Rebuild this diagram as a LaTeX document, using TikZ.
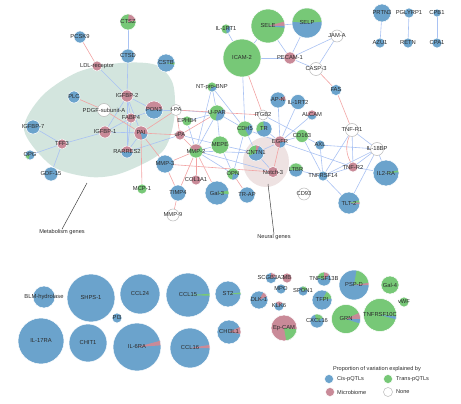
\documentclass[tikz,border=0pt]{standalone}
\usepackage{fontspec}
\setmainfont{Liberation Sans}
\usepackage{xcolor}

\definecolor{cis}{HTML}{6BA3CC}
\definecolor{trans}{HTML}{77C877}
\definecolor{micro}{HTML}{C98A98}
\definecolor{poslink}{HTML}{A9C2F3}
\definecolor{neglink}{HTML}{F2A3A3}
\definecolor{metab}{HTML}{D3E5DE}
\definecolor{neural}{HTML}{EEE2E2}
\definecolor{txt}{HTML}{2B2B2B}

\pgfdeclarelayer{blob}
\pgfdeclarelayer{link}
\pgfdeclarelayer{pie}
\pgfsetlayers{blob,link,pie,main}

\tikzset{
	gene/.style={circle, draw=white, line width=0.5pt, inner sep=0pt, text=txt, font=\fontsize{5.8}{6.5}\selectfont},
	none/.style={draw=gray!55},
	plink/.style={draw=poslink, line width=0.6pt},
	nlink/.style={draw=neglink, line width=0.6pt},
	note/.style={text=txt, inner sep=0pt, font=\fontsize{5.6}{6.5}\selectfont},
	pointer/.style={draw=black!75, line width=0.5pt}
}

\newcommand{\gene}[7][]{%
	\node[gene, minimum size=#5*2pt, #1] (#2) at (#3,-#4) {\makebox[0pt]{#7}};
	\begin{pgfonlayer}{pie}
		\foreach \pc/\pa/\pb in {#6}
			\fill[\pc] (#2.center) -- ++(\pa:#5) arc (\pa:\pb:#5) -- cycle;
	\end{pgfonlayer}}

\begin{document}
\begin{tikzpicture}[x=1pt, y=1pt]
			
			\useasboundingbox (0,0) rectangle (461,-404);
			
			\begin{pgfonlayer}{blob}
				\fill[metab] plot[smooth cycle] coordinates {(24,-130) (42,-96) (78,-72) (120,-63) (156,-65) (173,-84) (174,-120) (162,-152) (122,-173) (90,-177) (52,-166)};
				\fill[neural] (266,-162) ellipse (23 and 25);
			\end{pgfonlayer}
			
			\gene{ctsz}{128}{22}{8}{trans/0/360, micro/10/85}{CTSZ}
			\gene{pcsk9}{80}{37}{6}{cis/0/360}{PCSK9}
			\gene{ctsd}{128}{56}{7}{cis/0/360}{CTSD}
			\gene{cstb}{166}{63}{9}{cis/0/360, trans/-12/2}{CSTB}
			\gene{ldlr}{97}{66}{5}{micro/0/360}{LDL-receptor}
			\gene{igfbpb}{127}{96}{6}{micro/0/360}{IGFBP-2}
			\gene{plc}{74}{97}{6}{cis/0/360}{PLC}
			\gene[none]{pdgfa}{104}{110}{6.5}{white/0/360}{PDGF-subunit-A}
			\gene{pon3}{154}{110}{9}{cis/0/360, micro/5/170}{PON3}
			\gene{fabp4}{131}{118}{5}{micro/0/360}{FABP4}
			\gene[none]{tpa}{176}{110}{5.5}{white/0/360}{t-PA}
			\gene{ephb4}{187}{121}{5}{trans/0/360}{EPHB4}
			\gene{igfbpa}{105}{132}{6}{micro/0/360}{IGFBP-1}
			\gene{pai}{141}{133}{7}{micro/0/360, cis/-80/-10}{PAI}
			\gene{upa}{180}{135}{5}{micro/0/360}{uPA}
			\gene{rarres2}{127}{152}{6}{micro/0/360, cis/180/360}{RARRES2}
			\gene{igfbpg}{33}{127}{7}{cis/0/360}{IGFBP-7}
			\gene{tff3}{62}{144}{5}{micro/0/360}{TFF3}
			\gene{opg}{30}{155}{5}{cis/0/360, trans/190/250}{OPG}
			\gene{gdf15}{51}{174}{7}{cis/0/360}{GDF-15}
			\gene{mcp1}{142}{189}{5}{trans/0/360}{MCP-1}
			
			\gene{mmp3}{165}{164}{9}{cis/0/360}{MMP-3}
			\gene{mmp2}{196}{151}{7}{trans/0/360, micro/40/150}{MMP-2}
			\gene{mepe}{220}{145}{9}{trans/0/360}{MEPE}
			\gene{cntn1}{256}{153}{8}{cis/0/360, trans/90/200, micro/65/90}{CNTN1}
			\gene{notch3}{273}{172}{5.5}{micro/0/360}{Notch-3}
			\gene{egfr}{280}{142}{6}{micro/0/360, cis/-90/0}{EGFR}
			\gene{ltbr}{296}{170}{7}{cis/0/360, trans/0/180}{LTBR}
			\gene[none]{cd93}{304}{194}{6}{white/0/360}{CD93}
			\gene{opn}{233}{174}{6}{trans/0/360, cis/-100/0}{OPN}
			\gene{col1a1}{196}{180}{5}{micro/0/360}{COL1A1}
			\gene{gal3}{217}{193}{12}{cis/0/360, trans/-5/12}{Gal-3}
			\gene{trap}{247}{195}{8}{cis/0/360}{TR-AP}
			\gene{timp4}{178}{193}{8}{cis/0/360}{TIMP4}
			\gene[none]{mmp9}{173}{215}{6}{white/0/360}{MMP-9}
			
			\gene{il1rt1}{226}{29}{5}{trans/0/360, cis/-80/40}{IL-1RT1}
			\gene{sele}{268}{26}{17}{trans/0/360, micro/0/15, cis/-6/0}{SELE}
			\gene{selp}{307}{23}{15}{cis/0/360, trans/5/175}{SELP}
			\gene{icam2}{242}{58}{19}{trans/0/360}{ICAM-2}
			\gene{pecam1}{290}{58}{6}{micro/0/360}{PECAM-1}
			\gene[none]{jama}{337}{36}{6}{white/0/360}{JAM-A}
			\gene[none]{casp3}{316}{69}{6.5}{white/0/360}{CASP-3}
			\gene{fas}{336}{90}{5.5}{cis/0/360}{FAS}
			\gene[none]{tnfr1}{352}{130}{6.5}{white/0/360}{TNF-R1}
			\gene[none]{il18bp}{377}{149}{6.5}{white/0/360}{IL-18BP}
			\gene{tnfr2}{353}{167}{5}{micro/0/360}{TNF-R2}
			\gene{axl}{320}{145}{5}{cis/0/360}{AXL}
			\gene{tnfrsf14}{323}{176}{5}{cis/0/360}{TNFRSF14}
			\gene{il2ra}{386}{173}{13}{cis/0/360, trans/3/12}{IL2-RA}
			\gene{tlt2}{349}{203}{11}{cis/0/360, trans/2/15, micro/-5/2}{TLT-2}
			\gene{cd163}{302}{136}{6.5}{trans/0/360}{CD163}
			\gene{alcam}{312}{115}{5}{micro/0/360, cis/190/350}{ALCAM}
			\gene{il1rt2}{298}{102}{7.5}{cis/0/360}{IL-1RT2}
			\gene{apn}{278}{100}{8}{cis/0/360, micro/0/30}{AP-N}
			\gene[none]{itgb2}{263}{115}{5}{white/0/360}{ITGB2}
			\gene{tr}{264}{129}{8}{cis/0/360, trans/95/200}{TR}
			\gene{cdh5}{245}{129}{8}{trans/0/360, cis/-60/40}{CDH5}
			\gene{upar}{217}{113}{8}{trans/0/360, cis/-100/30}{U-PAR}
			\gene{ntbnp}{212}{87}{5}{trans/0/360, cis/-120/0}{NT-pro-BNP}
			
			\gene{prtn3}{382}{13}{9}{cis/0/360}{PRTN3}
			\gene{azu1}{380}{43}{5}{cis/0/360}{AZU1}
			\gene{pglyrp1}{409}{13}{5}{cis/0/360}{PGLYRP1}
			\gene{retn}{408}{43}{5}{cis/0/360}{RETN}
			\gene{cpb1}{437}{13}{4}{cis/0/360}{CPB1}
			\gene{cpa1}{437}{43}{5}{cis/0/360}{CPA1}
			
			\gene{blmh}{44}{297}{11}{cis/0/360}{BLM-hydrolase}
			\gene{shps1}{91}{298}{24}{cis/0/360}{SHPS-1}
			\gene{ccl24}{140}{294}{20}{cis/0/360}{CCL24}
			\gene{pi3}{117}{318}{5}{cis/0/360}{PI3}
			\gene{il17ra}{41}{341}{23}{cis/0/360}{IL-17RA}
			\gene{chit1}{88}{343}{19}{cis/0/360}{CHIT1}
			\gene{il6ra}{137}{347}{24}{cis/0/360, micro/4/15}{IL-6RA}
			\gene{ccl15}{188}{295}{22}{cis/0/360, trans/-2/3}{CCL15}
			\gene{st2}{228}{294}{13}{cis/0/360, trans/0/7}{ST2}
			\gene{dlk1}{259}{300}{9}{cis/0/360, micro/25/60}{DLK-1}
			\gene{scgb3a2}{271}{278}{5.5}{cis/0/360, micro/10/90}{SCGB3A2}
			\gene{mb}{287}{278}{5}{micro/0/360}{MB}
			\gene{mpo}{281}{289}{5}{cis/0/360}{MPO}
			\gene{klk6}{279}{306}{5}{cis/0/360, micro/40/130}{KLK6}
			\gene{chi3l1}{229}{332}{12}{cis/0/360, micro/-10/25}{CHI3L1}
			\gene{ccl16}{190}{348}{20}{cis/0/360, micro/0/9}{CCL16}
			\gene{epcam}{284}{328}{13}{micro/0/360, trans/-80/-5}{Ep-CAM}
			\gene{spon1}{303}{291}{5}{cis/0/360, trans/20/110}{SPON1}
			\gene{tnfsf13b}{324}{279}{7}{cis/0/360, trans/90/170, micro/40/90}{TNFSF13B}
			\gene{tfpi}{322}{300}{10}{cis/0/360, trans/10/60}{TFPI}
			\gene{cxcl16}{317}{321}{7}{cis/0/360, trans/30/110}{CXCL16}
			\gene{pspd}{354}{285}{15}{cis/0/360, trans/8/80, micro/0/8}{PSP-D}
			\gene{gal4}{390}{285}{9}{trans/0/360}{Gal-4}
			\gene{vwf}{404}{302}{5}{trans/0/360}{vWF}
			\gene{grn}{346}{319}{14.5}{trans/0/360, micro/0/25, cis/-18/0}{GRN}
			\gene{tnfrsf10c}{380}{315}{16.5}{trans/0/360, cis/-15/-5}{TNFRSF10C}
			
			\begin{pgfonlayer}{link}
				\foreach \u/\v in {ctsz/ctsd, ctsd/igfbpb, ldlr/igfbpb, igfbpb/fabp4, igfbpb/pon3, igfbpb/igfbpa, igfbpb/pai, igfbpb/rarres2, fabp4/pon3, fabp4/igfbpa, fabp4/rarres2, igfbpa/pai, igfbpa/tff3, tff3/igfbpg, tff3/opg, tff3/gdf15, pai/rarres2, rarres2/upa, pon3/tpa, tpa/upar, upa/mepe, ephb4/mmp2, ephb4/upar, ntbnp/upar, ntbnp/cdh5, ntbnp/mmp2, upar/cdh5, upar/mepe, upar/mmp2, icam2/cdh5, icam2/pecam1, icam2/sele, icam2/il1rt1, sele/selp, sele/pecam1, selp/pecam1, pecam1/jama, pecam1/casp3, jama/casp3, tnfr1/tnfr2, tnfr1/tnfrsf14, tnfr1/il18bp, il18bp/tnfr2, il18bp/axl, il18bp/il2ra, il18bp/tlt2, il18bp/tnfrsf14, tnfr2/tnfrsf14, tnfr2/il2ra, tnfrsf14/tlt2, tnfrsf14/axl, tnfrsf14/ltbr, tnfrsf14/cd163, egfr/apn, egfr/il1rt2, egfr/alcam, egfr/cd163, egfr/tr, egfr/cdh5, egfr/cntn1, egfr/tnfr2, cntn1/notch3, cntn1/mmp2, cntn1/mepe, cntn1/cdh5, mmp2/notch3, mmp2/mepe, mmp2/opn, mepe/opn, cdh5/opn, itgb2/axl, prtn3/azu1, pglyrp1/retn, cpb1/cpa1}
					\draw[plink] (\u) -- (\v);
				\foreach \u/\v in {pcsk9/ldlr, plc/pdgfa, pdgfa/pai, pai/upa, pai/mcp1, pai/tpa, pai/mmp3, tpa/upa, tpa/itgb2, upa/upar, upa/mmp2, icam2/itgb2, casp3/fas, fas/tnfr1, egfr/notch3, mmp3/notch3, mmp3/mmp2, mmp2/col1a1, mmp2/timp4, mmp2/gal3, mmp3/timp4, timp4/mmp9, opn/trap}
					\draw[nlink] (\u) -- (\v);
				\draw[nlink] (tnfr1) to[bend right=25] (tnfr2);
			\end{pgfonlayer}
			
			\coordinate (mtip) at (87,-183);
			\node[note] (mlabel) at (62,-232) {Metabolism genes};
			\draw[pointer] (mtip) -- (mlabel.north);
			
			\coordinate (ntip) at (268,-184);
			\node[note] (nlabel) at (274,-237) {Neural genes};
			\draw[pointer] (ntip) -- (nlabel.north);
			
			\node[note] (legtitle) at (377,-369) {Proportion of variation explained by};
			\gene{lcis}{329}{379}{4.5}{cis/0/360}{}
			\gene{ltrans}{388}{379}{4.5}{trans/0/360}{}
			\gene{lmicro}{330}{392}{4.5}{micro/0/360}{}
			\gene[none]{lnone}{388}{392}{4.5}{white/0/360}{}
			\node[note, anchor=west] (tcis) at (337,-379) {Cis-pQTLs};
			\node[note, anchor=west] (ttrans) at (396,-379) {Trans-pQTLs};
			\node[note, anchor=west] (tmicro) at (337,-392) {Microbiome};
			\node[note, anchor=west] (tnone) at (396,-392) {None};
			
		\end{tikzpicture}
\end{document}
